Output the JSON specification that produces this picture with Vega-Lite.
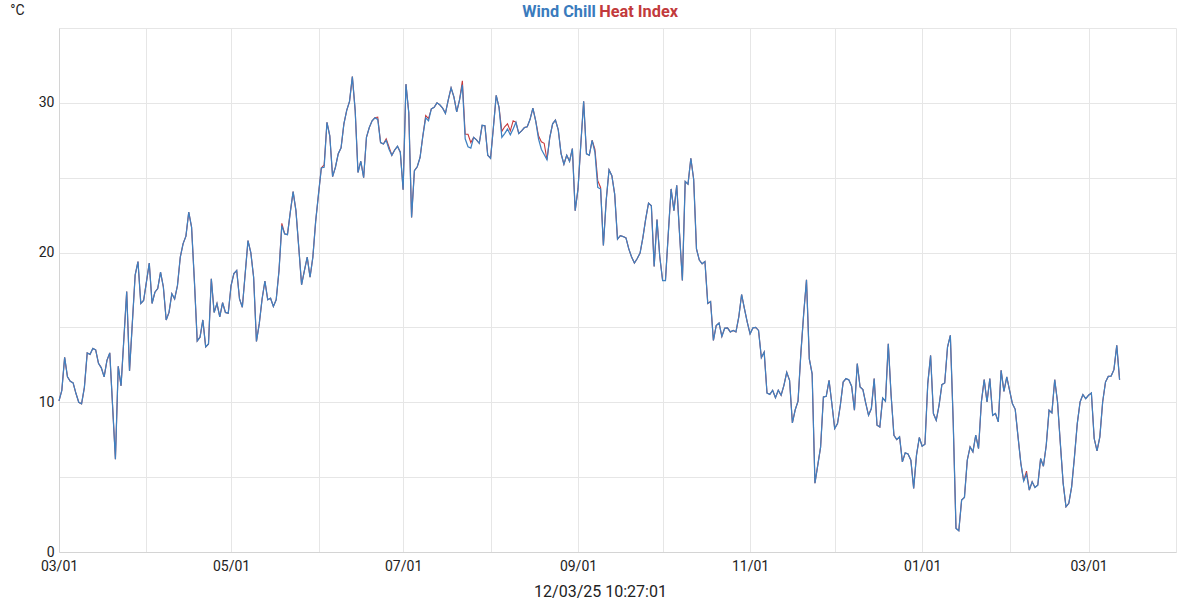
{
"$schema": "https://vega.github.io/schema/vega-lite/v6.json",
"autosize": "none",
"width": 1117,
"height": 524,
"padding": {"left": 59, "top": 28, "right": 24, "bottom": 48},
"background": "white",
"datasets": {"d": [
{"t":"2024-03-01","w":10.1,"h":10.1},{"t":"2024-03-02","w":10.8,"h":10.8},{"t":"2024-03-03","w":13.0,"h":13.0},{"t":"2024-03-04","w":11.7,"h":11.7},{"t":"2024-03-05","w":11.4,"h":11.4},{"t":"2024-03-06","w":11.3,"h":11.3},{"t":"2024-03-07","w":10.6,"h":10.6},{"t":"2024-03-08","w":10.0,"h":10.0},{"t":"2024-03-09","w":9.9,"h":9.9},{"t":"2024-03-10","w":11.0,"h":11.0},{"t":"2024-03-11","w":13.3,"h":13.3},{"t":"2024-03-12","w":13.2,"h":13.2},{"t":"2024-03-13","w":13.6,"h":13.6},{"t":"2024-03-14","w":13.5,"h":13.5},{"t":"2024-03-15","w":12.6,"h":12.6},{"t":"2024-03-16","w":12.3,"h":12.3},{"t":"2024-03-17","w":11.7,"h":11.7},{"t":"2024-03-18","w":12.8,"h":12.8},{"t":"2024-03-19","w":13.3,"h":13.3},{"t":"2024-03-21","w":6.2,"h":6.2},{"t":"2024-03-22","w":12.4,"h":12.4},{"t":"2024-03-23","w":11.1,"h":11.1},{"t":"2024-03-25","w":17.4,"h":17.4},{"t":"2024-03-26","w":12.1,"h":12.1},{"t":"2024-03-28","w":18.5,"h":18.5},{"t":"2024-03-29","w":19.4,"h":19.4},{"t":"2024-03-30","w":16.6,"h":16.6},{"t":"2024-03-31","w":16.8,"h":16.8},
{"t":"2024-04-02","w":19.3,"h":19.3},{"t":"2024-04-03","w":16.6,"h":16.6},{"t":"2024-04-04","w":17.35,"h":17.35},{"t":"2024-04-05","w":17.6,"h":17.6},{"t":"2024-04-06","w":18.7,"h":18.7},{"t":"2024-04-07","w":17.7,"h":17.7},{"t":"2024-04-08","w":15.5,"h":15.5},{"t":"2024-04-09","w":16.0,"h":16.0},{"t":"2024-04-10","w":17.25,"h":17.25},{"t":"2024-04-11","w":16.9,"h":16.9},{"t":"2024-04-12","w":17.8,"h":17.8},{"t":"2024-04-13","w":19.7,"h":19.7},{"t":"2024-04-14","w":20.6,"h":20.6},{"t":"2024-04-15","w":21.1,"h":21.1},{"t":"2024-04-16","w":22.7,"h":22.7},{"t":"2024-04-17","w":21.7,"h":21.7},{"t":"2024-04-18","w":18.1,"h":18.1},{"t":"2024-04-19","w":14.1,"h":14.1},{"t":"2024-04-20","w":14.35,"h":14.35},{"t":"2024-04-21","w":15.5,"h":15.5},{"t":"2024-04-22","w":13.7,"h":13.7},{"t":"2024-04-23","w":13.9,"h":13.9},{"t":"2024-04-24","w":18.25,"h":18.25},{"t":"2024-04-25","w":16.0,"h":16.0},{"t":"2024-04-26","w":16.6,"h":16.6},{"t":"2024-04-27","w":15.7,"h":15.7},{"t":"2024-04-28","w":16.65,"h":16.65},{"t":"2024-04-29","w":16.0,"h":16.0},{"t":"2024-04-30","w":15.95,"h":15.95},
{"t":"2024-05-01","w":17.8,"h":17.8},{"t":"2024-05-02","w":18.6,"h":18.6},{"t":"2024-05-03","w":18.8,"h":18.8},{"t":"2024-05-04","w":16.9,"h":16.9},{"t":"2024-05-05","w":16.35,"h":16.35},{"t":"2024-05-07","w":20.8,"h":20.8},{"t":"2024-05-08","w":20.0,"h":20.0},{"t":"2024-05-09","w":18.35,"h":18.35},{"t":"2024-05-10","w":14.07,"h":14.07},{"t":"2024-05-11","w":15.25,"h":15.25},{"t":"2024-05-12","w":16.9,"h":16.9},{"t":"2024-05-13","w":18.1,"h":18.1},{"t":"2024-05-14","w":16.85,"h":16.85},{"t":"2024-05-15","w":16.95,"h":16.95},{"t":"2024-05-16","w":16.4,"h":16.4},{"t":"2024-05-17","w":16.85,"h":16.85},{"t":"2024-05-18","w":18.8,"h":18.8},{"t":"2024-05-19","w":21.8,"h":21.95},{"t":"2024-05-20","w":21.25,"h":21.25},{"t":"2024-05-21","w":21.2,"h":21.2},{"t":"2024-05-22","w":22.7,"h":22.7},{"t":"2024-05-23","w":24.07,"h":24.07},{"t":"2024-05-24","w":22.8,"h":22.8},{"t":"2024-05-25","w":20.35,"h":20.35},{"t":"2024-05-26","w":17.85,"h":17.85},{"t":"2024-05-27","w":18.8,"h":18.8},{"t":"2024-05-28","w":19.7,"h":19.7},{"t":"2024-05-29","w":18.35,"h":18.35},{"t":"2024-05-30","w":19.7,"h":19.7},{"t":"2024-05-31","w":22.1,"h":22.1},
{"t":"2024-06-01","w":23.9,"h":23.9},{"t":"2024-06-02","w":25.65,"h":25.65},{"t":"2024-06-03","w":25.7,"h":25.85},{"t":"2024-06-04","w":28.7,"h":28.7},{"t":"2024-06-05","w":27.8,"h":27.8},{"t":"2024-06-06","w":25.07,"h":25.07},{"t":"2024-06-07","w":25.7,"h":25.7},{"t":"2024-06-08","w":26.6,"h":26.6},{"t":"2024-06-09","w":27.0,"h":27.0},{"t":"2024-06-10","w":28.6,"h":28.6},{"t":"2024-06-11","w":29.5,"h":29.5},{"t":"2024-06-12","w":30.1,"h":30.1},{"t":"2024-06-13","w":31.75,"h":31.75},{"t":"2024-06-14","w":29.5,"h":29.5},{"t":"2024-06-15","w":25.35,"h":25.35},{"t":"2024-06-16","w":26.1,"h":26.1},{"t":"2024-06-17","w":25.0,"h":25.0},{"t":"2024-06-18","w":27.7,"h":27.7},{"t":"2024-06-19","w":28.35,"h":28.35},{"t":"2024-06-20","w":28.8,"h":28.8},{"t":"2024-06-21","w":29.0,"h":29.0},{"t":"2024-06-22","w":28.9,"h":29.05},{"t":"2024-06-23","w":27.35,"h":27.35},{"t":"2024-06-24","w":27.25,"h":27.25},{"t":"2024-06-25","w":27.5,"h":27.6},{"t":"2024-06-26","w":26.9,"h":27.05},{"t":"2024-06-27","w":26.5,"h":26.5},{"t":"2024-06-28","w":26.85,"h":26.85},{"t":"2024-06-29","w":27.1,"h":27.1},{"t":"2024-06-30","w":26.7,"h":26.7},
{"t":"2024-07-01","w":24.2,"h":24.2},{"t":"2024-07-02","w":31.25,"h":31.25},{"t":"2024-07-03","w":29.35,"h":29.35},{"t":"2024-07-04","w":22.35,"h":22.35},{"t":"2024-07-05","w":25.47,"h":25.47},{"t":"2024-07-06","w":25.73,"h":25.73},{"t":"2024-07-07","w":26.35,"h":26.35},{"t":"2024-07-08","w":27.8,"h":27.8},{"t":"2024-07-09","w":29.0,"h":29.15},{"t":"2024-07-10","w":28.8,"h":28.95},{"t":"2024-07-11","w":29.6,"h":29.6},{"t":"2024-07-12","w":29.7,"h":29.7},{"t":"2024-07-13","w":30.0,"h":30.0},{"t":"2024-07-14","w":29.87,"h":29.87},{"t":"2024-07-15","w":29.65,"h":29.65},{"t":"2024-07-16","w":29.3,"h":29.3},{"t":"2024-07-17","w":30.2,"h":30.2},{"t":"2024-07-18","w":31.0,"h":31.0},{"t":"2024-07-19","w":30.4,"h":30.4},{"t":"2024-07-20","w":29.4,"h":29.4},{"t":"2024-07-21","w":30.2,"h":30.2},{"t":"2024-07-22","w":31.2,"h":31.47},{"t":"2024-07-23","w":27.6,"h":27.9},{"t":"2024-07-24","w":27.07,"h":27.9},{"t":"2024-07-25","w":26.98,"h":27.35},{"t":"2024-07-26","w":27.7,"h":27.7},{"t":"2024-07-27","w":27.53,"h":27.53},{"t":"2024-07-28","w":27.3,"h":27.3},{"t":"2024-07-29","w":28.5,"h":28.5},{"t":"2024-07-30","w":28.47,"h":28.47},{"t":"2024-07-31","w":26.5,"h":26.5},
{"t":"2024-08-01","w":26.3,"h":26.3},{"t":"2024-08-02","w":28.35,"h":28.35},{"t":"2024-08-03","w":30.5,"h":30.5},{"t":"2024-08-04","w":29.7,"h":29.7},{"t":"2024-08-05","w":27.7,"h":28.1},{"t":"2024-08-06","w":27.95,"h":28.4},{"t":"2024-08-07","w":28.25,"h":28.6},{"t":"2024-08-08","w":27.87,"h":28.13},{"t":"2024-08-09","w":28.25,"h":28.8},{"t":"2024-08-10","w":28.7,"h":28.7},{"t":"2024-08-11","w":27.95,"h":27.95},{"t":"2024-08-12","w":28.13,"h":28.13},{"t":"2024-08-13","w":28.35,"h":28.35},{"t":"2024-08-14","w":28.4,"h":28.4},{"t":"2024-08-15","w":28.9,"h":28.9},{"t":"2024-08-16","w":29.65,"h":29.65},{"t":"2024-08-17","w":28.8,"h":28.8},{"t":"2024-08-18","w":27.6,"h":27.8},{"t":"2024-08-19","w":26.9,"h":27.4},{"t":"2024-08-20","w":26.55,"h":27.3},{"t":"2024-08-21","w":26.2,"h":26.2},{"t":"2024-08-22","w":27.7,"h":27.7},{"t":"2024-08-23","w":28.6,"h":28.6},{"t":"2024-08-24","w":28.85,"h":28.85},{"t":"2024-08-25","w":28.2,"h":28.2},{"t":"2024-08-26","w":26.6,"h":26.6},{"t":"2024-08-27","w":25.9,"h":25.9},{"t":"2024-08-28","w":26.5,"h":26.5},{"t":"2024-08-29","w":26.1,"h":26.1},{"t":"2024-08-30","w":26.95,"h":26.95},{"t":"2024-08-31","w":22.8,"h":22.8},
{"t":"2024-09-01","w":24.25,"h":24.25},{"t":"2024-09-02","w":27.25,"h":27.25},{"t":"2024-09-03","w":30.1,"h":30.1},{"t":"2024-09-04","w":26.6,"h":26.6},{"t":"2024-09-05","w":26.5,"h":26.5},{"t":"2024-09-06","w":27.5,"h":27.5},{"t":"2024-09-07","w":26.7,"h":26.9},{"t":"2024-09-08","w":24.35,"h":24.8},{"t":"2024-09-09","w":24.25,"h":24.35},{"t":"2024-09-10","w":20.47,"h":20.47},{"t":"2024-09-11","w":23.5,"h":23.5},{"t":"2024-09-12","w":25.53,"h":25.53},{"t":"2024-09-13","w":25.13,"h":25.13},{"t":"2024-09-14","w":23.9,"h":23.9},{"t":"2024-09-15","w":20.9,"h":20.9},{"t":"2024-09-16","w":21.13,"h":21.13},{"t":"2024-09-17","w":21.07,"h":21.07},{"t":"2024-09-18","w":20.98,"h":20.98},{"t":"2024-09-19","w":20.25,"h":20.25},{"t":"2024-09-20","w":19.7,"h":19.7},{"t":"2024-09-21","w":19.3,"h":19.3},{"t":"2024-09-22","w":19.6,"h":19.6},{"t":"2024-09-23","w":19.97,"h":19.97},{"t":"2024-09-24","w":21.0,"h":21.0},{"t":"2024-09-25","w":22.25,"h":22.25},{"t":"2024-09-26","w":23.3,"h":23.3},{"t":"2024-09-27","w":23.13,"h":23.13},{"t":"2024-09-28","w":19.07,"h":19.07},{"t":"2024-09-29","w":22.2,"h":22.2},{"t":"2024-09-30","w":19.7,"h":19.7},
{"t":"2024-10-01","w":18.13,"h":18.13},{"t":"2024-10-02","w":18.13,"h":18.13},{"t":"2024-10-03","w":21.25,"h":21.25},{"t":"2024-10-04","w":24.25,"h":24.25},{"t":"2024-10-05","w":22.8,"h":22.8},{"t":"2024-10-06","w":24.5,"h":24.5},{"t":"2024-10-07","w":21.25,"h":21.25},{"t":"2024-10-08","w":18.13,"h":18.13},{"t":"2024-10-09","w":24.75,"h":24.75},{"t":"2024-10-10","w":24.57,"h":24.57},{"t":"2024-10-11","w":26.3,"h":26.3},{"t":"2024-10-12","w":24.9,"h":24.9},{"t":"2024-10-13","w":20.25,"h":20.25},{"t":"2024-10-14","w":19.5,"h":19.5},{"t":"2024-10-15","w":19.25,"h":19.25},{"t":"2024-10-16","w":19.4,"h":19.4},{"t":"2024-10-17","w":16.6,"h":16.6},{"t":"2024-10-18","w":16.73,"h":16.73},{"t":"2024-10-19","w":14.13,"h":14.13},{"t":"2024-10-20","w":15.13,"h":15.13},{"t":"2024-10-21","w":15.3,"h":15.3},{"t":"2024-10-22","w":14.4,"h":14.4},{"t":"2024-10-23","w":14.95,"h":14.95},{"t":"2024-10-24","w":14.97,"h":14.97},{"t":"2024-10-25","w":14.7,"h":14.7},{"t":"2024-10-26","w":14.8,"h":14.8},{"t":"2024-10-27","w":14.7,"h":14.7},{"t":"2024-10-28","w":15.7,"h":15.7},{"t":"2024-10-29","w":17.2,"h":17.2},{"t":"2024-10-30","w":16.25,"h":16.25},{"t":"2024-10-31","w":15.35,"h":15.35},
{"t":"2024-11-01","w":14.57,"h":14.57},{"t":"2024-11-02","w":14.97,"h":14.97},{"t":"2024-11-03","w":15.0,"h":15.0},{"t":"2024-11-04","w":14.8,"h":14.8},{"t":"2024-11-05","w":12.98,"h":12.98},{"t":"2024-11-06","w":13.35,"h":13.35},{"t":"2024-11-07","w":10.62,"h":10.62},{"t":"2024-11-08","w":10.53,"h":10.53},{"t":"2024-11-09","w":10.8,"h":10.8},{"t":"2024-11-10","w":10.3,"h":10.3},{"t":"2024-11-11","w":10.8,"h":10.8},{"t":"2024-11-12","w":10.47,"h":10.47},{"t":"2024-11-13","w":11.13,"h":11.13},{"t":"2024-11-14","w":12.0,"h":12.0},{"t":"2024-11-15","w":11.47,"h":11.47},{"t":"2024-11-16","w":8.62,"h":8.62},{"t":"2024-11-17","w":9.5,"h":9.5},{"t":"2024-11-18","w":10.07,"h":10.07},{"t":"2024-11-19","w":13.25,"h":13.25},{"t":"2024-11-20","w":15.9,"h":15.9},{"t":"2024-11-21","w":18.18,"h":18.18},{"t":"2024-11-22","w":12.9,"h":12.9},{"t":"2024-11-23","w":11.9,"h":11.9},{"t":"2024-11-24","w":4.6,"h":4.6},{"t":"2024-11-25","w":5.8,"h":5.8},{"t":"2024-11-26","w":7.0,"h":7.0},{"t":"2024-11-27","w":10.35,"h":10.35},{"t":"2024-11-28","w":10.4,"h":10.4},{"t":"2024-11-29","w":11.47,"h":11.47},{"t":"2024-11-30","w":9.9,"h":9.9},
{"t":"2024-12-01","w":8.25,"h":8.25},{"t":"2024-12-02","w":8.58,"h":8.58},{"t":"2024-12-03","w":9.8,"h":9.8},{"t":"2024-12-04","w":11.35,"h":11.35},{"t":"2024-12-05","w":11.58,"h":11.58},{"t":"2024-12-06","w":11.5,"h":11.5},{"t":"2024-12-07","w":11.07,"h":11.07},{"t":"2024-12-08","w":9.47,"h":9.47},{"t":"2024-12-09","w":12.58,"h":12.58},{"t":"2024-12-10","w":11.02,"h":11.02},{"t":"2024-12-11","w":10.85,"h":10.85},{"t":"2024-12-12","w":9.95,"h":9.95},{"t":"2024-12-13","w":9.13,"h":9.13},{"t":"2024-12-14","w":9.58,"h":9.58},{"t":"2024-12-15","w":11.58,"h":11.58},{"t":"2024-12-16","w":8.47,"h":8.47},{"t":"2024-12-17","w":8.35,"h":8.35},{"t":"2024-12-18","w":10.28,"h":10.28},{"t":"2024-12-19","w":10.07,"h":10.07},{"t":"2024-12-20","w":13.9,"h":13.9},{"t":"2024-12-21","w":10.47,"h":10.47},{"t":"2024-12-22","w":7.8,"h":7.8},{"t":"2024-12-23","w":7.51,"h":7.51},{"t":"2024-12-24","w":7.69,"h":7.69},{"t":"2024-12-25","w":6.02,"h":6.02},{"t":"2024-12-26","w":6.62,"h":6.62},{"t":"2024-12-27","w":6.55,"h":6.55},{"t":"2024-12-28","w":6.13,"h":6.13},{"t":"2024-12-29","w":4.25,"h":4.25},{"t":"2024-12-30","w":6.47,"h":6.47},{"t":"2024-12-31","w":7.65,"h":7.65},
{"t":"2025-01-01","w":7.07,"h":7.07},{"t":"2025-01-02","w":7.2,"h":7.2},{"t":"2025-01-03","w":11.25,"h":11.25},{"t":"2025-01-04","w":13.13,"h":13.13},{"t":"2025-01-05","w":9.25,"h":9.25},{"t":"2025-01-06","w":8.8,"h":8.8},{"t":"2025-01-07","w":9.8,"h":9.8},{"t":"2025-01-08","w":11.18,"h":11.18},{"t":"2025-01-09","w":11.29,"h":11.29},{"t":"2025-01-10","w":13.69,"h":13.69},{"t":"2025-01-11","w":14.47,"h":14.47},{"t":"2025-01-12","w":8.8,"h":8.8},{"t":"2025-01-13","w":1.58,"h":1.58},{"t":"2025-01-14","w":1.42,"h":1.42},{"t":"2025-01-15","w":3.47,"h":3.47},{"t":"2025-01-16","w":3.65,"h":3.65},{"t":"2025-01-17","w":6.13,"h":6.13},{"t":"2025-01-18","w":7.02,"h":7.02},{"t":"2025-01-19","w":6.69,"h":6.69},{"t":"2025-01-20","w":7.8,"h":7.8},{"t":"2025-01-21","w":6.91,"h":6.91},{"t":"2025-01-22","w":10.02,"h":10.02},{"t":"2025-01-23","w":11.51,"h":11.51},{"t":"2025-01-24","w":10.02,"h":10.02},{"t":"2025-01-25","w":11.58,"h":11.58},{"t":"2025-01-26","w":9.13,"h":9.13},{"t":"2025-01-27","w":9.25,"h":9.25},{"t":"2025-01-28","w":8.69,"h":8.69},{"t":"2025-01-29","w":12.13,"h":12.13},{"t":"2025-01-30","w":10.73,"h":10.73},{"t":"2025-01-31","w":11.69,"h":11.69},
{"t":"2025-02-01","w":10.8,"h":10.8},{"t":"2025-02-02","w":9.91,"h":9.91},{"t":"2025-02-03","w":9.53,"h":9.53},{"t":"2025-02-04","w":7.69,"h":7.69},{"t":"2025-02-05","w":5.91,"h":5.91},{"t":"2025-02-06","w":4.75,"h":4.75},{"t":"2025-02-07","w":5.2,"h":5.4},{"t":"2025-02-08","w":4.13,"h":4.13},{"t":"2025-02-09","w":4.69,"h":4.69},{"t":"2025-02-10","w":4.31,"h":4.31},{"t":"2025-02-11","w":4.47,"h":4.47},{"t":"2025-02-12","w":6.24,"h":6.24},{"t":"2025-02-13","w":5.73,"h":5.73},{"t":"2025-02-14","w":7.13,"h":7.13},{"t":"2025-02-15","w":9.47,"h":9.47},{"t":"2025-02-16","w":9.29,"h":9.29},{"t":"2025-02-17","w":11.51,"h":11.51},{"t":"2025-02-18","w":10.02,"h":10.02},{"t":"2025-02-19","w":7.24,"h":7.24},{"t":"2025-02-20","w":4.58,"h":4.58},{"t":"2025-02-21","w":3.02,"h":3.02},{"t":"2025-02-22","w":3.25,"h":3.25},{"t":"2025-02-23","w":4.35,"h":4.35},{"t":"2025-02-24","w":6.35,"h":6.35},{"t":"2025-02-25","w":8.58,"h":8.58},{"t":"2025-02-26","w":10.02,"h":10.02},{"t":"2025-02-27","w":10.51,"h":10.51},{"t":"2025-02-28","w":10.24,"h":10.24},
{"t":"2025-03-01","w":10.47,"h":10.47},{"t":"2025-03-02","w":10.62,"h":10.62},{"t":"2025-03-03","w":7.58,"h":7.58},{"t":"2025-03-04","w":6.76,"h":6.76},{"t":"2025-03-05","w":7.69,"h":7.69},{"t":"2025-03-06","w":10.02,"h":10.02},{"t":"2025-03-07","w":11.35,"h":11.35},{"t":"2025-03-08","w":11.73,"h":11.73},{"t":"2025-03-09","w":11.75,"h":11.75},{"t":"2025-03-10","w":12.18,"h":12.18},{"t":"2025-03-11","w":13.8,"h":13.8},{"t":"2025-03-12","w":11.51,"h":11.51}
]},
"data": {"name": "d"},
"encoding": {
  "x": {"field": "t", "type": "temporal",
    "scale": {"type": "utc", "domain": [{"year": 2024, "month": 3, "date": 1, "utc": true}, {"year": 2025, "month": 4, "date": 1, "utc": true}]},
    "axis": {
      "values": [{"year":2024,"month":3,"date":1,"utc":true},{"year":2024,"month":4,"date":1,"utc":true},{"year":2024,"month":5,"date":1,"utc":true},{"year":2024,"month":6,"date":1,"utc":true},{"year":2024,"month":7,"date":1,"utc":true},{"year":2024,"month":8,"date":1,"utc":true},{"year":2024,"month":9,"date":1,"utc":true},{"year":2024,"month":10,"date":1,"utc":true},{"year":2024,"month":11,"date":1,"utc":true},{"year":2024,"month":12,"date":1,"utc":true},{"year":2025,"month":1,"date":1,"utc":true},{"year":2025,"month":2,"date":1,"utc":true},{"year":2025,"month":3,"date":1,"utc":true},{"year":2025,"month":4,"date":1,"utc":true}],
      "labelExpr": "utcmonth(datum.value) % 2 == 0 ? utcFormat(datum.value, '%m/%d') : ''",
      "grid": true, "gridColor": "#e6e6e6", "ticks": false, "labelPadding": 7,
      "labelFontSize": 14, "labelColor": "#222222", "labelFlush": false, "labelOverlap": false,
      "domainColor": "#d4d4d4",
      "title": "12/03/25 10:27:01", "titleFontSize": 16, "titleFontWeight": "normal", "titleColor": "#222222",
      "titleX": 541, "titleY": 39, "titleAlign": "center", "titleBaseline": "middle"
    }
  }
},
"layer": [
  {"mark": {"type": "line", "strokeWidth": 1.1, "interpolate": "linear"},
   "encoding": {
     "y": {"field": "h", "type": "quantitative", "scale": {"domain": [0, 35], "nice": false},
       "axis": {"values": [0,5,10,15,20,25,30,35], "labelExpr": "datum.value % 10 == 0 ? datum.label : ''",
         "grid": true, "gridColor": "#e6e6e6", "ticks": false, "labelPadding": 5, "labelFontSize": 14, "labelColor": "#222222",
         "domainColor": "#d4d4d4", "title": "°C", "titleAngle": 0, "titleX": -42, "titleY": -18, "titleAlign": "center", "titleBaseline": "middle", "titleFontSize": 14, "titleFontWeight": "normal", "titleColor": "#222222"}},
     "color": {"datum": "Heat Index", "type": "nominal",
       "scale": {"domain": ["Wind Chill", "Heat Index"], "range": ["#3f80c0", "#c8393b"]},
       "legend": {"orient": "none", "legendX": 463, "legendY": -24, "direction": "horizontal", "title": null,
         "symbolSize": 0, "symbolStrokeWidth": 0, "symbolOpacity": 0, "labelOffset": -16, "columnPadding": 3,
         "labelFontSize": 16.3, "labelFontWeight": "bold",
         "encode": {"labels": {"update": {"fill": {"signal": "datum.value == 'Wind Chill' ? '#3a7bbd' : '#c23a3c'"}}}}}}
   }},
  {"mark": {"type": "line", "strokeWidth": 1.25, "interpolate": "linear"},
   "encoding": {
     "y": {"field": "w", "type": "quantitative", "scale": {"domain": [0, 35], "nice": false},
       "axis": {"values": [0,5,10,15,20,25,30,35], "labelExpr": "datum.value % 10 == 0 ? datum.label : ''",
         "grid": true, "gridColor": "#e6e6e6", "ticks": false, "labelPadding": 5, "labelFontSize": 14, "labelColor": "#222222",
         "domainColor": "#d4d4d4", "title": "°C", "titleAngle": 0, "titleX": -42, "titleY": -18, "titleAlign": "center", "titleBaseline": "middle", "titleFontSize": 14, "titleFontWeight": "normal", "titleColor": "#222222"}},
     "color": {"datum": "Wind Chill", "type": "nominal",
       "scale": {"domain": ["Wind Chill", "Heat Index"], "range": ["#3f80c0", "#c8393b"]}}
   }}
],
"config": {"font": "Roboto", "view": {"stroke": null}}
}
